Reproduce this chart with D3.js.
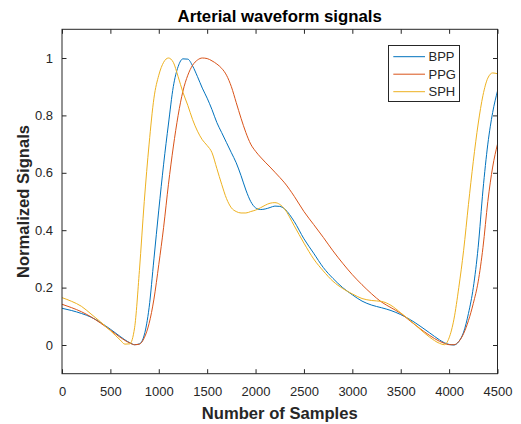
<!DOCTYPE html>
<html><head><meta charset="utf-8">
<script src="https://cdn.jsdelivr.net/npm/d3@7"></script>
<style>body{margin:0;background:#fff}svg{display:block}</style>
</head><body>
<svg id="chart" width="521" height="424"></svg>
<script>
const samples = [0,100,200,300,400,500,600,650,700,750,800,850,900,950,1000,1050,1100,1150,1200,1250,1300,1350,1400,1450,1500,1550,1600,1650,1700,1750,1800,1850,1900,1950,2000,2050,2100,2150,2200,2250,2300,2400,2500,2600,2700,2800,2900,3000,3100,3200,3300,3400,3500,3600,3700,3800,3900,3950,4000,4050,4100,4150,4200,4250,4300,4350,4400,4450,4500];
const bpp = [0.128,0.12,0.11,0.097,0.078,0.055,0.03,0.018,0.008,0.001,0.004,0.035,0.13,0.3,0.47,0.63,0.77,0.9,0.97,0.997,0.996,0.972,0.935,0.895,0.86,0.82,0.775,0.74,0.705,0.67,0.635,0.59,0.54,0.5,0.478,0.472,0.474,0.479,0.484,0.483,0.474,0.43,0.37,0.32,0.27,0.232,0.2,0.175,0.153,0.139,0.13,0.12,0.106,0.088,0.066,0.042,0.018,0.008,0.002,0.0,0.012,0.045,0.11,0.2,0.34,0.54,0.7,0.81,0.885];
const ppg = [0.142,0.13,0.116,0.098,0.076,0.052,0.027,0.016,0.007,0.001,0.003,0.025,0.075,0.16,0.28,0.41,0.56,0.69,0.8,0.885,0.94,0.975,0.993,1.0,0.998,0.99,0.979,0.964,0.94,0.9,0.845,0.79,0.74,0.7,0.675,0.655,0.637,0.62,0.602,0.584,0.565,0.518,0.465,0.42,0.375,0.328,0.285,0.245,0.21,0.178,0.15,0.13,0.11,0.083,0.057,0.033,0.013,0.006,0.001,0.001,0.012,0.04,0.085,0.145,0.22,0.34,0.5,0.62,0.70];
const sph = [0.165,0.152,0.135,0.108,0.08,0.05,0.018,0.003,0.004,0.06,0.26,0.5,0.7,0.86,0.94,0.985,1.0,0.985,0.935,0.88,0.835,0.785,0.745,0.715,0.695,0.67,0.615,0.56,0.51,0.478,0.465,0.46,0.46,0.465,0.47,0.478,0.487,0.494,0.496,0.49,0.474,0.415,0.355,0.3,0.258,0.222,0.197,0.178,0.162,0.155,0.152,0.138,0.112,0.085,0.055,0.027,0.006,0.001,0.025,0.09,0.2,0.33,0.49,0.64,0.77,0.87,0.93,0.948,0.945];
const seriesNames = ["BPP","PPG","SPH"];
const seriesColors = ["#0072BD","#D95319","#EDB120"];
const xTicks = [0,500,1000,1500,2000,2500,3000,3500,4000,4500];
const yTicks = [0,0.2,0.4,0.6,0.8,1];
const titleText = "Arterial waveform signals";
const xLabel = "Number of Samples";
const yLabel = "Normalized Signals";

const svg = d3.select("#chart");
const L = 62, R = 497.5, T = 29.3, B = 373.7;
const font = "'Liberation Sans', Arial, Helvetica, sans-serif";
const axisColor = "#262626";
const x = d3.scaleLinear().domain([0,4500]).range([L,R]);
const y = d3.scaleLinear().domain([-0.1,1.1]).range([B,T]);

svg.append("rect").attr("width",521).attr("height",424).attr("fill","#fff");

svg.append("defs").append("clipPath").attr("id","clip")
  .append("rect").attr("x",L).attr("y",T).attr("width",R-L).attr("height",B-T);

const data = [bpp, ppg, sph];
const line = d3.line().x((d,i)=>x(samples[i])).y(d=>y(d)).curve(d3.curveMonotoneX);
const g = svg.append("g").attr("clip-path","url(#clip)");
data.forEach((s,k)=>{
  g.append("path").datum(s).attr("d",line).attr("fill","none")
   .attr("stroke",seriesColors[k]).attr("stroke-width",1);
});

function styleAxis(sel){
  sel.select(".domain").remove();
  sel.selectAll("line").attr("stroke",axisColor);
  sel.selectAll("text").attr("fill",axisColor).style("font-family",font).style("font-size","13px");
}
svg.append("g").attr("transform",`translate(0,${B})`)
  .call(d3.axisBottom(x).tickValues(xTicks).tickFormat(d3.format("d")).tickSizeInner(-4.5).tickSizeOuter(0).tickPadding(12.8))
  .call(styleAxis);
svg.append("g").attr("transform",`translate(0,${T})`)
  .call(d3.axisTop(x).tickValues(xTicks).tickFormat("").tickSizeInner(-4.5).tickSizeOuter(0))
  .call(styleAxis);
svg.append("g").attr("transform",`translate(${L},0)`)
  .call(d3.axisLeft(y).tickValues(yTicks).tickFormat(d=>d3.format("")(+d.toFixed(1))).tickSizeInner(-4.5).tickSizeOuter(0).tickPadding(9))
  .call(styleAxis);
svg.append("g").attr("transform",`translate(${R},0)`)
  .call(d3.axisRight(y).tickValues(yTicks).tickFormat("").tickSizeInner(-4.5).tickSizeOuter(0))
  .call(styleAxis);

svg.append("rect").attr("x",L).attr("y",T).attr("width",R-L).attr("height",B-T)
  .attr("fill","none").attr("stroke",axisColor).attr("stroke-width",1);

svg.append("text").attr("x",(L+R)/2).attr("y",22.3).attr("text-anchor","middle")
  .style("font-family",font).style("font-size","16.8px").style("font-weight","bold").attr("fill","#000")
  .text(titleText);
svg.append("text").attr("x",(L+R)/2).attr("y",419).attr("text-anchor","middle")
  .style("font-family",font).style("font-size","16.6px").style("font-weight","bold").attr("fill",axisColor)
  .text(xLabel);
svg.append("text").attr("transform",`translate(28.5,${(T+B)/2}) rotate(-90)`).attr("text-anchor","middle")
  .style("font-family",font).style("font-size","16.6px").style("font-weight","bold").attr("fill",axisColor)
  .text(yLabel);

const lg = svg.append("g");
lg.append("rect").attr("x",388.5).attr("y",45.5).attr("width",71).attr("height",56)
  .attr("fill","#fff").attr("stroke",axisColor).attr("stroke-width",1);
const rowY = [56.7,74.2,91.7];
seriesNames.forEach((n,k)=>{
  lg.append("line").attr("x1",393.3).attr("x2",425).attr("y1",rowY[k]).attr("y2",rowY[k])
    .attr("stroke",seriesColors[k]).attr("stroke-width",1);
  lg.append("text").attr("x",428.5).attr("y",rowY[k]).attr("dy","0.36em")
    .style("font-family",font).style("font-size","13px").attr("fill",axisColor).text(n);
});
</script>
</body></html>
